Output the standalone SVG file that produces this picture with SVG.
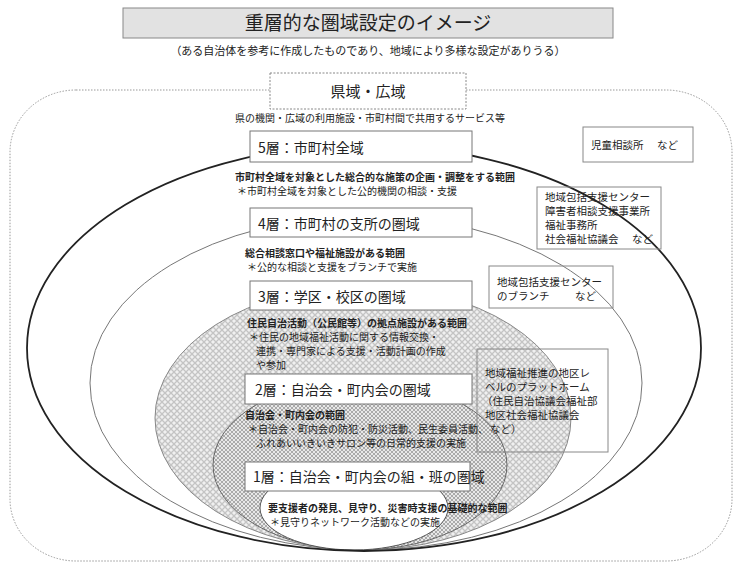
<svg xmlns="http://www.w3.org/2000/svg" width="740" height="572" viewBox="0 0 740 572">
<style>
text{font-family:"Noto Sans CJK JP","Noto Sans CJK SC",sans-serif;fill:#222}
.t10{font-size:10px}
.s{font-size:10.5px}
.b{font-weight:700}
.lab{font-size:14px}
.box{fill:#fff;stroke:#777;stroke-width:1}
.obox{fill:none;stroke:#888;stroke-width:1}
</style>
<defs>
<pattern id="p3" width="6" height="6" patternUnits="userSpaceOnUse">
<rect width="6" height="6" fill="#f0f0f0"/>
<path d="M0 0L6 6M6 0L0 6" stroke="#c4c4c4" stroke-width="1.3"/>
</pattern>
<pattern id="p2" width="4" height="4" patternUnits="userSpaceOnUse">
<rect width="4" height="4" fill="#e8e8e8"/>
<path d="M0 0L4 4M4 0L0 4" stroke="#aaa" stroke-width="1"/>
</pattern>
</defs>
<g id="title">
<rect x="123" y="8" width="490" height="30" fill="#e2e2e2" stroke="#888"/>
<text x="368" y="30" text-anchor="middle" style="font-size:19px">重層的な圏域設定のイメージ</text>
<text x="368" y="55" text-anchor="middle" style="font-size:11px">（ある自治体を参考に作成したものであり、地域により多様な設定がありうる）</text>
</g>
<g id="prefecture">
<rect x="10" y="90" width="722" height="471" rx="66" ry="62" fill="none" stroke="#999" stroke-width="1" stroke-dasharray="1.5 1.5"/>
<rect x="270" y="73" width="196" height="36" fill="#fff" stroke="#888" stroke-dasharray="2 1.5"/>
<text x="368" y="97" text-anchor="middle" style="font-size:15px">県域・広域</text>
<text x="370" y="122" text-anchor="middle" class="t10">県の機関・広域の利用施設・市町村間で共用するサービス等</text>
</g>
<g id="regions">
<ellipse id="r4" cx="366" cy="383" rx="276" ry="167" fill="none" stroke="#777" stroke-width="1"/>
<ellipse id="r3" cx="363" cy="418" rx="208" ry="132" fill="url(#p3)" stroke="#888" stroke-width="1"/>
<ellipse id="r2" cx="360" cy="465" rx="147" ry="85" fill="url(#p2)" stroke="#666" stroke-width="1"/>
<ellipse id="r1" cx="354" cy="508" rx="94" ry="42" fill="#fff" stroke="#555" stroke-width="1"/>
<ellipse id="r5" cx="364" cy="348" rx="337" ry="203" fill="none" stroke="#222" stroke-width="1.8"/>
</g>
<g id="connectors"></g>
<g id="side1">
<rect class="obox" x="583" y="127" width="110" height="35"/>
<text x="591" y="149" class="s">児童相談所</text>
<text x="657" y="149" class="s">など</text>
</g>
<g id="side2">
<rect class="obox" x="537" y="187" width="124" height="62"/>
<text x="545" y="201" class="s">地域包括支援センター</text>
<text x="545" y="215" class="s">障害者相談支援事業所</text>
<text x="545" y="229" class="s">福祉事務所</text>
<text x="545" y="243" class="s">社会福祉協議会</text>
<text x="632" y="243" class="s">など</text>
</g>
<g id="side3">
<rect class="obox" x="489" y="266" width="124" height="42"/>
<text x="497" y="286" class="s">地域包括支援センター</text>
<text x="497" y="300" class="s">のブランチ</text>
<text x="575" y="300" class="s">など</text>
</g>
<g id="side4">
<rect class="obox" x="477" y="349" width="131" height="103"/>
<text x="485" y="377" class="s">地域福祉推進の地区レ</text>
<text x="485" y="391" class="s">ベルのプラットホーム</text>
<text x="482" y="405" class="s">（住民自治協議会福祉部</text>
<text x="485" y="419" class="s">地区社会福祉協議会</text>
<text x="490" y="433" class="s">など）</text>
</g>
<g id="layer5">
<rect class="box" x="250" y="131" width="222" height="31"/>
<text x="258" y="153" class="lab">5層：市町村全域</text>
<text x="235" y="181" class="t10 b">市町村全域を対象とした総合的な施策の企画・調整をする範囲</text>
<text x="237" y="195" class="t10">＊市町村全域を対象とした公的機関の相談・支援</text>
</g>
<g id="layer4">
<rect class="box" x="250" y="208" width="222" height="29"/>
<text x="258" y="229" class="lab">4層：市町村の支所の圏域</text>
<text x="245" y="257" class="t10 b">総合相談窓口や福祉施設がある範囲</text>
<text x="247" y="271" class="t10">＊公的な相談と支援をブランチで実施</text>
</g>
<g id="layer3">
<rect class="box" x="250" y="281" width="222" height="29"/>
<text x="258" y="302" class="lab">3層：学区・校区の圏域</text>
<text x="247" y="327" class="t10 b">住民自治活動（公民館等）の拠点施設がある範囲</text>
<text x="249" y="341" class="t10">＊住民の地域福祉活動に関する情報交換・</text>
<text x="256" y="355" class="t10">連携・専門家による支援・活動計画の作成</text>
<text x="256" y="369" class="t10">や参加</text>
</g>
<g id="layer2">
<rect class="box" x="245" y="374" width="227" height="30"/>
<text x="255" y="395" class="lab">2層：自治会・町内会の圏域</text>
<text x="245" y="419" class="t10 b">自治会・町内会の範囲</text>
<text x="248" y="433" class="t10">＊自治会・町内会の防犯・防災活動、民生委員活動、</text>
<text x="256" y="447" class="t10">ふれあいいきいきサロン等の日常的支援の実施</text>
</g>
<g id="layer1">
<rect class="box" x="245" y="462" width="225" height="29"/>
<text x="253" y="482" class="lab">1層：自治会・町内会の組・班の圏域</text>
<text x="268" y="512" class="t10 b">要支援者の発見、見守り、災害時支援の基礎的な範囲</text>
<text x="270" y="526" class="t10">＊見守りネットワーク活動などの実施</text>
</g>
</svg>
